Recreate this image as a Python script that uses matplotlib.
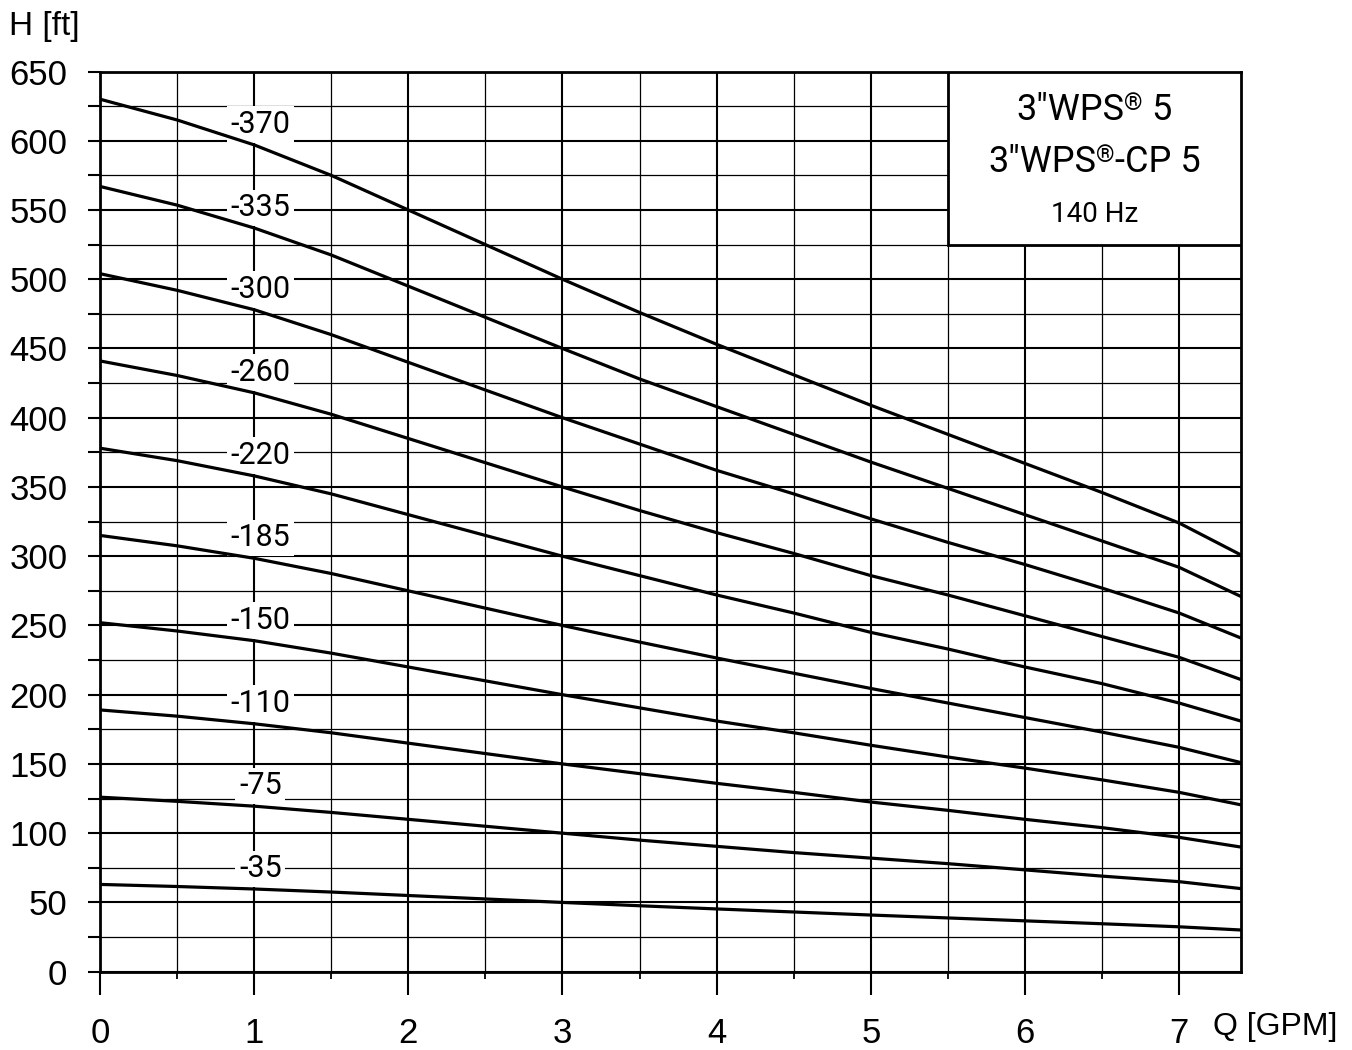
import matplotlib
matplotlib.use("Agg")
import matplotlib.pyplot as plt
from matplotlib import font_manager
from matplotlib.patches import Rectangle
from matplotlib.offsetbox import TextArea, HPacker, AnnotationBbox

# flow points (GPM) where the curves were read
q = [0, 0.5, 1, 1.5, 2, 2.5, 3, 3.5, 4, 4.5, 5, 5.5, 6, 6.5, 7, 7.4]

# head (ft)
h35 = [63, 61.5, 59.7, 57.5, 55, 52.5, 50, 47.6, 45.3, 43.1, 40.9, 38.8, 36.7, 34.6, 32.4, 30.1]
h75 = [126, 123, 119.5, 115, 110, 105, 100, 95, 90.5, 86, 82, 78, 73.5, 69, 65, 60]
h110 = [189, 184.5, 179, 172.5, 165, 157.5, 150, 143, 136, 129.5, 122.5, 116.5, 110, 104, 97, 90]
h150 = [252, 246, 239, 230, 220, 210, 200, 190.5, 181, 172.5, 163.5, 155, 147, 138.5, 129.5, 120.5]
h185 = [315, 307.5, 298.5, 287.5, 275, 262.5, 250, 238, 226.5, 215.5, 204.5, 194, 183.5, 173, 162, 151]
h220 = [378, 369, 358, 345, 330, 315, 300, 286, 272, 259, 245, 233, 220, 208, 194, 181]
h260 = [441, 430.5, 418, 402.5, 385, 367.5, 350, 333, 317, 302, 286, 272, 257, 242, 227, 211]
h300 = [504, 492, 478, 460, 440, 420, 400, 381, 362, 345, 327, 310, 294, 277, 259, 241]
h335 = [567, 553.5, 537, 517.5, 495, 472.5, 450, 428, 408, 388, 368, 349, 330, 311, 292, 271]
h370 = [630, 615, 597, 575, 550, 525, 500, 476, 453, 431, 409, 388, 367, 346, 324, 301]

curves = [h35, h75, h110, h150, h185, h220, h260, h300, h335, h370]
curve_labels = ["-35", "-75", "-110", "-150", "-185", "-220", "-260", "-300", "-335", "-370"]

# title pieces: (before mark, after mark)
title_parts = [('3"WPS', " 5"), ('3"WPS', "-CP 5")]
title_freq = "140 Hz"


def pick_font(names):
    for n in names:
        try:
            font_manager.findfont(n, fallback_to_default=False)
            return n
        except Exception:
            pass
    return "DejaVu Sans"


main_font = pick_font(["Liberation Sans", "Arial"])
narrow_font = pick_font(["Liberation Sans Narrow", "Roboto", "Liberation Sans"])
plt.rcParams["font.family"] = [main_font, "DejaVu Sans"]

fig = plt.figure(figsize=(13.52, 10.5), dpi=100)
ax = fig.add_axes([0.074, 0.0746, 0.8437, 0.8573])

for h in curves:
    ax.plot(q, h, color="black", lw=2.3, zorder=6, solid_joinstyle="round")

# curve labels sit just above the value at Q = 1
for h, lab in zip(curves, curve_labels):
    ax.annotate(lab, xy=(1.04, h[2]), xytext=(0, 8.5), textcoords="offset points",
                ha="center", va="baseline", fontsize=22, family=[narrow_font, "DejaVu Sans"],
                bbox=dict(boxstyle="square,pad=0.12", fc="white", ec="none"), zorder=5)

ax.set_xlim(0, 7.4)
ax.set_ylim(0, 650)
ax.set_xticks(range(0, 8))
ax.set_xticks([0.5 * i for i in range(15)], minor=True)
ax.set_yticks(range(0, 651, 50))
ax.set_yticks(range(0, 651, 25), minor=True)
ax.set_axisbelow(True)
ax.grid(which="major", color="black", lw=1.5)
ax.grid(which="minor", color="black", lw=0.9)

ax.tick_params(axis="x", which="major", length=16.5, width=1.5, pad=16, labelsize=25)
ax.tick_params(axis="x", which="minor", length=5, width=1.3)
ax.tick_params(axis="y", which="both", length=8.5, width=1.5, pad=15, labelsize=25)
for s in ax.spines.values():
    s.set_linewidth(2)

# model box in the top right corner
ax.add_patch(Rectangle((5.5, 525), 1.9, 125, fc="white", ec="black", lw=2, zorder=7))
big = dict(fontsize=26, family=[narrow_font, "DejaVu Sans"])
small = dict(fontsize=17, family=[narrow_font, "DejaVu Sans"])
for (a, b), yv in zip(title_parts, [622, 585]):
    row = HPacker(children=[TextArea(a, textprops=big), TextArea("®", textprops=small),
                            TextArea(b, textprops=big)], align="top", pad=0, sep=0)
    ab = AnnotationBbox(row, (6.45, yv), frameon=False, box_alignment=(0.5, 0.5), zorder=8)
    ax.add_artist(ab)
ax.text(6.45, 547, title_freq, ha="center", va="center", fontsize=20,
        family=[narrow_font, "DejaVu Sans"], zorder=8)

fig.text(0.007, 0.975, "H [ft]", ha="left", va="center", fontsize=24)
fig.text(0.897, 0.022, "Q [GPM]", ha="left", va="center", fontsize=23)

fig.savefig("out.png", dpi=100)
